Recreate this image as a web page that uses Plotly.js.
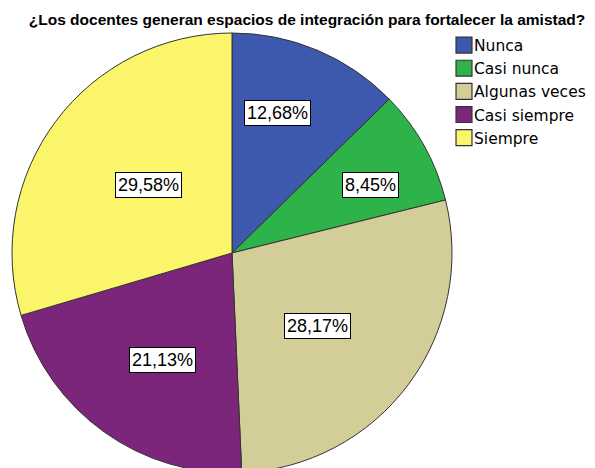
<!DOCTYPE html>
<html>
<head>
<meta charset="utf-8">
<script src="https://cdn.plot.ly/plotly-3.0.1.min.js"></script>
<style>
html,body{margin:0;padding:0;overflow:hidden;background:#fff;}
#chart{width:595px;height:480px;}
</style>
</head>
<body>
<div id="chart"></div>
<script>
const categories = ["Nunca", "Casi nunca", "Algunas veces", "Casi siempre", "Siempre"];
const counts = [9, 6, 20, 15, 21];
const percentLabels = ["12,68%", "8,45%", "28,17%", "21,13%", "29,58%"];
const colors = ["#3D59AE", "#2EB34B", "#D3CE98", "#7C267B", "#FBF56C"];
const titleText = "¿Los docentes generan espacios de integración para fortalecer la amistad?";

// layout geometry (pixels)
const W = 595, H = 480;
const pieLeft = 12, pieRight = 452, pieTop = 33, pieBottom = 473;
const cx = (pieLeft + pieRight) / 2, cy = (pieTop + pieBottom) / 2;
const R = (pieRight - pieLeft) / 2;
// label placement: fraction of radius and small angular nudge (degrees)
const labelRadius = [0.67, 0.70, 0.51, 0.58, 0.49];
const labelNudge = [-4.8, 3.1, 3.5, -2.5, 2.3];

const total = counts.reduce((a, b) => a + b, 0);
let cum = 0;
const annotations = counts.map((v, i) => {
  const mid = (cum + v / 2) / total * 2 * Math.PI + labelNudge[i] * Math.PI / 180;
  cum += v;
  const px = cx + labelRadius[i] * R * Math.sin(mid);
  const py = cy - labelRadius[i] * R * Math.cos(mid);
  return {
    xref: "paper", yref: "paper",
    x: px / W, y: (H - py) / H,
    xanchor: "center", yanchor: "middle",
    text: percentLabels[i], showarrow: false,
    bgcolor: "#ffffff", bordercolor: "#000000", borderwidth: 1, borderpad: 2,
    font: {family: "Liberation Sans, Arial, sans-serif", size: 18, color: "#000"}
  };
});

const trace = {
  type: "pie",
  labels: categories,
  values: counts,
  sort: false,
  direction: "clockwise",
  rotation: 0,
  textinfo: "none",
  hoverinfo: "label+percent",
  marker: {colors: colors, line: {color: "#333333", width: 1}},
  domain: {x: [pieLeft / W, pieRight / W], y: [(H - pieBottom) / H, (H - pieTop) / H]}
};

const layout = {
  width: W, height: H,
  margin: {l: 0, r: 0, t: 0, b: 0},
  paper_bgcolor: "#ffffff",
  showlegend: true,
  title: {
    text: titleText,
    x: 307 / W, xanchor: "center", xref: "paper",
    y: (H - 20) / H, yanchor: "middle", yref: "paper",
    font: {family: "Liberation Sans, Arial, sans-serif", size: 15.5, weight: "bold", color: "#000"}
  },
  legend: {
    x: 434 / W, xanchor: "left",
    y: (H - 28.5) / H, yanchor: "top",
    font: {family: "DejaVu Sans, sans-serif", size: 15.5, color: "#000"},
    bgcolor: "rgba(0,0,0,0)", traceorder: "normal",
    itemclick: false, itemdoubleclick: false
  },
  annotations: annotations
};

Plotly.newPlot("chart", [trace], layout, {displayModeBar: false, staticPlot: true}).then(gd => {
  // enlarge legend swatches and move them next to the text
  gd.querySelectorAll(".legend .legendpoints path").forEach(p => {
    const t = p.getAttribute("transform") || "";
    p.setAttribute("transform", t + " translate(10,0) scale(1.33)");
    p.style.strokeWidth = "0.9px";
  });
});
</script>
</body>
</html>
